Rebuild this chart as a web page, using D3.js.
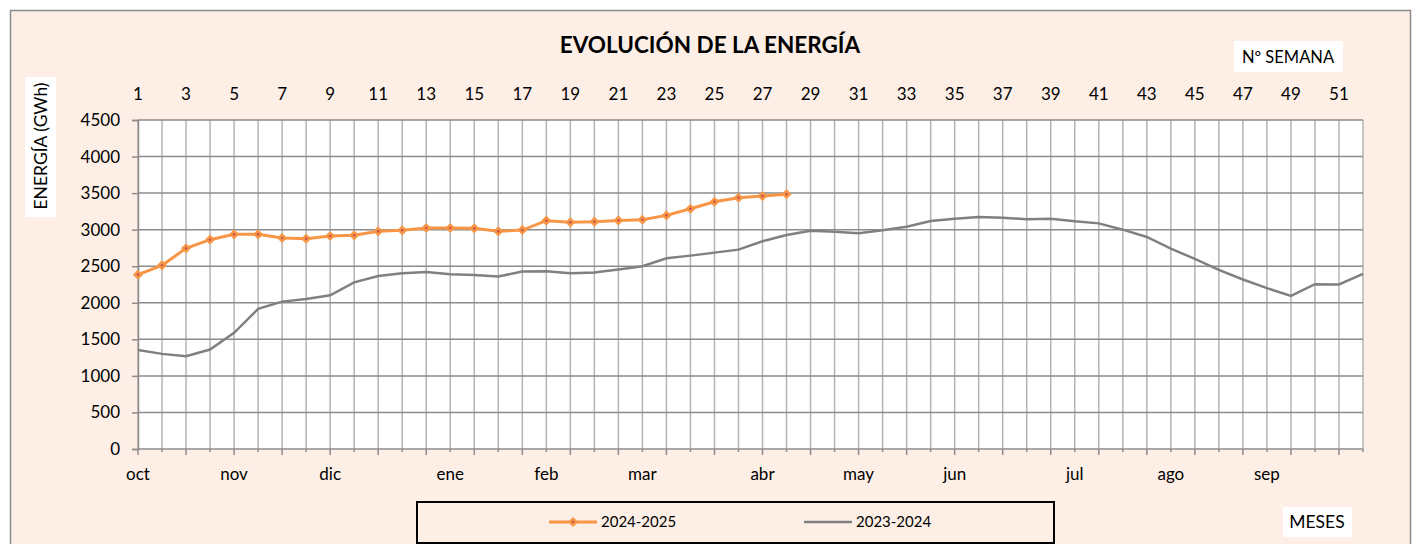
<!DOCTYPE html>
<html>
<head>
<meta charset="utf-8">
<script src="https://cdn.jsdelivr.net/npm/d3@7"></script>
<style>
  body { margin: 0; background: #fff; }
  text { font-family: Lato, "Open Sans", sans-serif; fill: #000; }
</style>
</head>
<body>
<div id="chart"></div>
<script>
// weekly energy (GWh), week 1 = first week of October
const energy2425 = [2385, 2512, 2745, 2863, 2936, 2936, 2886, 2877, 2913, 2923,
  2977, 2991, 3023, 3023, 3018, 2977, 2995, 3123, 3100, 3109,
  3127, 3136, 3195, 3286, 3382, 3436, 3459, 3486];
const energy2324 = [1355, 1301, 1269, 1360, 1588, 1916, 2016, 2052, 2102, 2280,
  2367, 2403, 2421, 2390, 2380, 2359, 2427, 2432, 2405, 2414,
  2455, 2500, 2609, 2645, 2686, 2727, 2841, 2927, 2986, 2973,
  2950, 2991, 3041, 3118, 3150, 3173, 3164, 3141, 3150, 3114,
  3086, 3000, 2900, 2741, 2600, 2450, 2318, 2200, 2095, 2255,
  2250, 2395];
const weekTicks = [1, 3, 5, 7, 9, 11, 13, 15, 17, 19, 21, 23, 25, 27, 29, 31, 33, 35, 37, 39, 41, 43, 45, 47, 49, 51];
const months = ["oct", "nov", "dic", "ene", "feb", "mar", "abr", "may", "jun", "jul", "ago", "sep"];
const monthWeeks = [1, 5, 9, 14, 18, 22, 27, 31, 35, 40, 44, 48];
const energyTicks = [0, 500, 1000, 1500, 2000, 2500, 3000, 3500, 4000, 4500];
const seriesNames = ["2024-2025", "2023-2024"];

const W = 1416, H = 544;
const orange = "#F79646", grey = "#808080";

const svg = d3.select("#chart").append("svg")
    .attr("width", W).attr("height", H);

// outer chart area
svg.append("rect")
    .attr("x", 10.5).attr("y", 10.5)
    .attr("width", 1400).attr("height", 560)
    .attr("fill", "#FDEFE6")
    .attr("stroke", "#8c8c8c").attr("stroke-width", 1.5);

const x = d3.scaleLinear().domain([1, 52]).range([138, 1363]);
const y = d3.scaleLinear().domain([0, 4500]).range([449, 120]);

// plot area
svg.append("rect")
    .attr("x", x(1)).attr("y", y(4500))
    .attr("width", x(52) - x(1)).attr("height", y(0) - y(4500))
    .attr("fill", "#fff");

const allWeeks = d3.range(1, 53);

// vertical grid
svg.append("g")
  .selectAll("line")
  .data(allWeeks)
  .join("line")
    .attr("x1", d => x(d)).attr("x2", d => x(d))
    .attr("y1", y(4500)).attr("y2", y(0))
    .attr("stroke", "#b4b4b4").attr("stroke-width", 1.5);

// horizontal grid
svg.append("g")
  .selectAll("line")
  .data(energyTicks)
  .join("line")
    .attr("x1", x(1)).attr("x2", x(52))
    .attr("y1", d => y(d)).attr("y2", d => y(d))
    .attr("stroke", "#8c8c8c").attr("stroke-width", 1.5);

// left axis
const yAxis = svg.append("g")
    .attr("transform", `translate(${x(1)},0)`)
    .call(d3.axisLeft(y).tickValues(energyTicks).tickFormat(d3.format("d")).tickSize(6).tickPadding(12));
yAxis.select(".domain").attr("stroke", "#8c8c8c").attr("stroke-width", 1.5);
yAxis.selectAll(".tick line").attr("stroke", "#8c8c8c").attr("stroke-width", 1.5);
yAxis.selectAll("text").style("font-size", "17px").attr("font-family", null);

// bottom ticks (weekly, longer on odd weeks)
svg.append("g")
  .selectAll("line")
  .data(allWeeks)
  .join("line")
    .attr("x1", d => x(d)).attr("x2", d => x(d))
    .attr("y1", y(0)).attr("y2", d => y(0) + (d % 2 ? 6 : 3))
    .attr("stroke", "#8c8c8c").attr("stroke-width", 1.5);

// month labels
svg.append("g")
  .selectAll("text")
  .data(months)
  .join("text")
    .attr("x", (d, i) => x(monthWeeks[i]))
    .attr("y", 480)
    .attr("text-anchor", "middle")
    .style("font-size", "17px")
    .text(d => d);

// week numbers on top
svg.append("g")
  .selectAll("text")
  .data(weekTicks)
  .join("text")
    .attr("x", d => x(d))
    .attr("y", 100)
    .attr("text-anchor", "middle")
    .style("font-size", "17px")
    .text(d => d);

// series
const line = d3.line().x((d, i) => x(i + 1)).y(d => y(d));

svg.append("path")
    .datum(energy2324)
    .attr("d", line)
    .attr("fill", "none")
    .attr("stroke", grey).attr("stroke-width", 2.5);

svg.append("path")
    .datum(energy2425)
    .attr("d", line)
    .attr("fill", "none")
    .attr("stroke", orange).attr("stroke-width", 3);

const diamond = d3.symbol().type(d3.symbolSquare).size(22);
svg.append("g")
  .selectAll("path")
  .data(energy2425)
  .join("path")
    .attr("d", diamond)
    .attr("transform", (d, i) => `translate(${x(i + 1)},${y(d)}) rotate(45)`)
    .attr("fill", "#C0504D")
    .attr("stroke", orange).attr("stroke-width", 2.5);

// title
svg.append("text")
    .attr("x", 710).attr("y", 53)
    .attr("text-anchor", "middle")
    .style("font-size", "22.5px").style("font-weight", "bold")
    .text("EVOLUCIÓN DE LA ENERGÍA");

// y axis title
svg.append("rect")
    .attr("x", 25).attr("y", 77).attr("width", 31).attr("height", 140)
    .attr("fill", "#fff");
svg.append("text")
    .attr("transform", "translate(47,146) rotate(-90)")
    .attr("text-anchor", "middle")
    .style("font-size", "17.5px")
    .text("ENERGÍA (GWh)");

// "Nº SEMANA" label
svg.append("rect")
    .attr("x", 1234).attr("y", 41).attr("width", 109).attr("height", 31)
    .attr("fill", "#fff");
svg.append("text")
    .attr("x", 1288).attr("y", 63)
    .attr("text-anchor", "middle")
    .style("font-size", "16.5px")
    .text("Nº SEMANA");

// "MESES" label
svg.append("rect")
    .attr("x", 1283).attr("y", 507).attr("width", 69).attr("height", 30)
    .attr("fill", "#fff");
svg.append("text")
    .attr("x", 1317).attr("y", 528)
    .attr("text-anchor", "middle")
    .style("font-size", "17.5px")
    .text("MESES");

// legend
svg.append("rect")
    .attr("x", 417).attr("y", 502).attr("width", 637).attr("height", 41)
    .attr("fill", "#FDEFE6")
    .attr("stroke", "#000").attr("stroke-width", 2);

const legendX = [549, 804];
const legendColors = [orange, grey];
const leg = svg.append("g")
  .selectAll("g")
  .data(seriesNames)
  .join("g")
    .attr("transform", (d, i) => `translate(${legendX[i]},522)`);
leg.append("line")
    .attr("x1", 0).attr("x2", 48)
    .attr("stroke", (d, i) => legendColors[i])
    .attr("stroke-width", (d, i) => i ? 2.5 : 3);
leg.filter((d, i) => i === 0).append("path")
    .attr("d", diamond)
    .attr("transform", "translate(24,0) rotate(45)")
    .attr("fill", "#C0504D")
    .attr("stroke", orange).attr("stroke-width", 2.5);
leg.append("text")
    .attr("x", 52).attr("y", 5)
    .style("font-size", "15px")
    .text(d => d);
</script>
</body>
</html>
